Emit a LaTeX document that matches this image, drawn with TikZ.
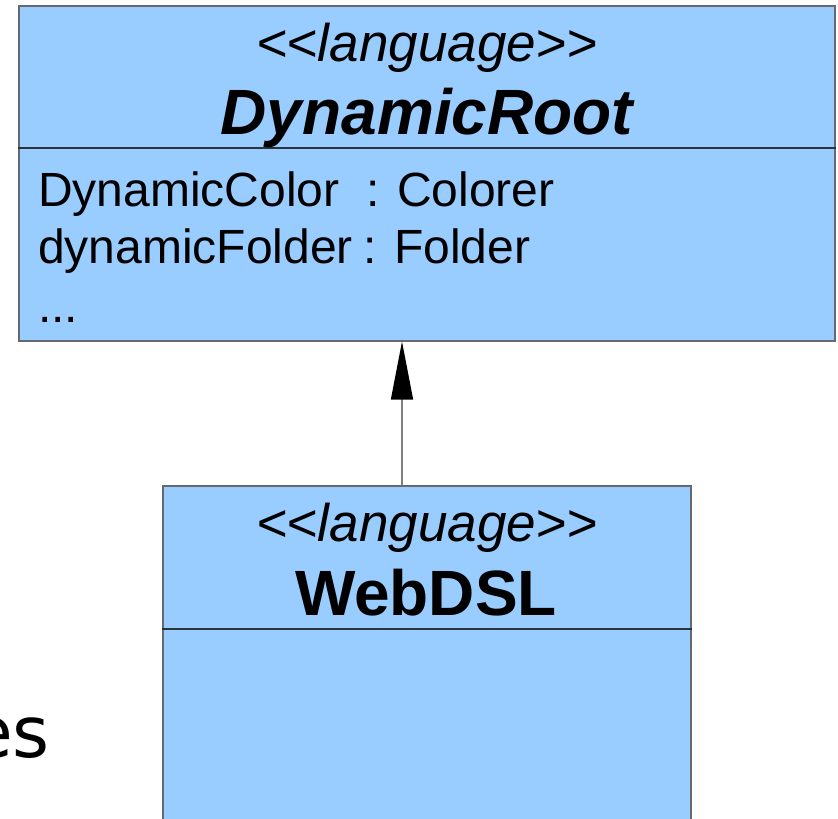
\documentclass[tikz,border=0pt]{standalone}
\usepackage{fontspec}
\setmainfont{Liberation Sans}
\newfontfamily\dejavu{DejaVu Sans}
\usetikzlibrary{arrows.meta}
\definecolor{classfill}{HTML}{99CCFF}
\definecolor{classline}{HTML}{666A70}
\definecolor{divline}{HTML}{2A323A}
\definecolor{genline}{HTML}{808080}
\tikzset{
  classbox/.style={draw=classline, fill=classfill, line width=1.5pt, rectangle,
    inner sep=0pt, anchor=north west},
  divider/.style={draw=divline, line width=1.5pt},
  stereo/.style={anchor=base, inner sep=0pt, font=\itshape\fontsize{53}{60}\selectfont},
  classname/.style={anchor=base, inner sep=0pt, font=\bfseries\fontsize{64}{72}\selectfont},
  attr/.style={anchor=base west, inner sep=0pt, font=\fontsize{48}{56}\selectfont},
  gen/.style={draw=genline, line width=1.3pt,
    -{Triangle[length=58pt, width=22pt, color=black]}},
}
\begin{document}
\begin{tikzpicture}[x=1pt, y=-1pt]
\useasboundingbox (0,0) rectangle (838,819);

% fragment of a word at the left edge
\node[anchor=base east, inner sep=0pt, font=\dejavu\fontsize{71}{80}\selectfont] (frag) at (50,757) {es};

% class DynamicRoot
\node[classbox, minimum width=816pt, minimum height=335pt] (root) at (18,5) {};
\draw[divider] ([yshift=-143pt]root.north west) -- ([yshift=-143pt]root.north east);
\node[stereo] (rootst) at (427,61) {<{}<language>{}>};
\node[classname, font=\bfseries\itshape\fontsize{64}{72}\selectfont] (rootname) at (427,134) {DynamicRoot};
\node[attr] (attr1) at (38,206) {DynamicColor};
\node[attr] (attr1t) at (366,206) {: Colorer};
\node[attr] (attr2) at (38,263) {dynamicFolder};
\node[attr] (attr2t) at (363,263) {: Folder};
\node[attr] (attr3) at (38,322) {...};

% class WebDSL
\node[classbox, minimum width=528pt, minimum height=345pt] (web) at (162,485) {};
\draw[divider] ([yshift=-144pt]web.north west) -- ([yshift=-144pt]web.north east);
\node[stereo] (webst) at (427,541) {<{}<language>{}>};
\node[classname] (webname) at (426,615) {WebDSL};

% generalization WebDSL -> DynamicRoot
\coordinate (genx) at (402,0);
\draw[gen] (web.north west -| genx) -- (root.south west -| genx);
\end{tikzpicture}
\end{document}
